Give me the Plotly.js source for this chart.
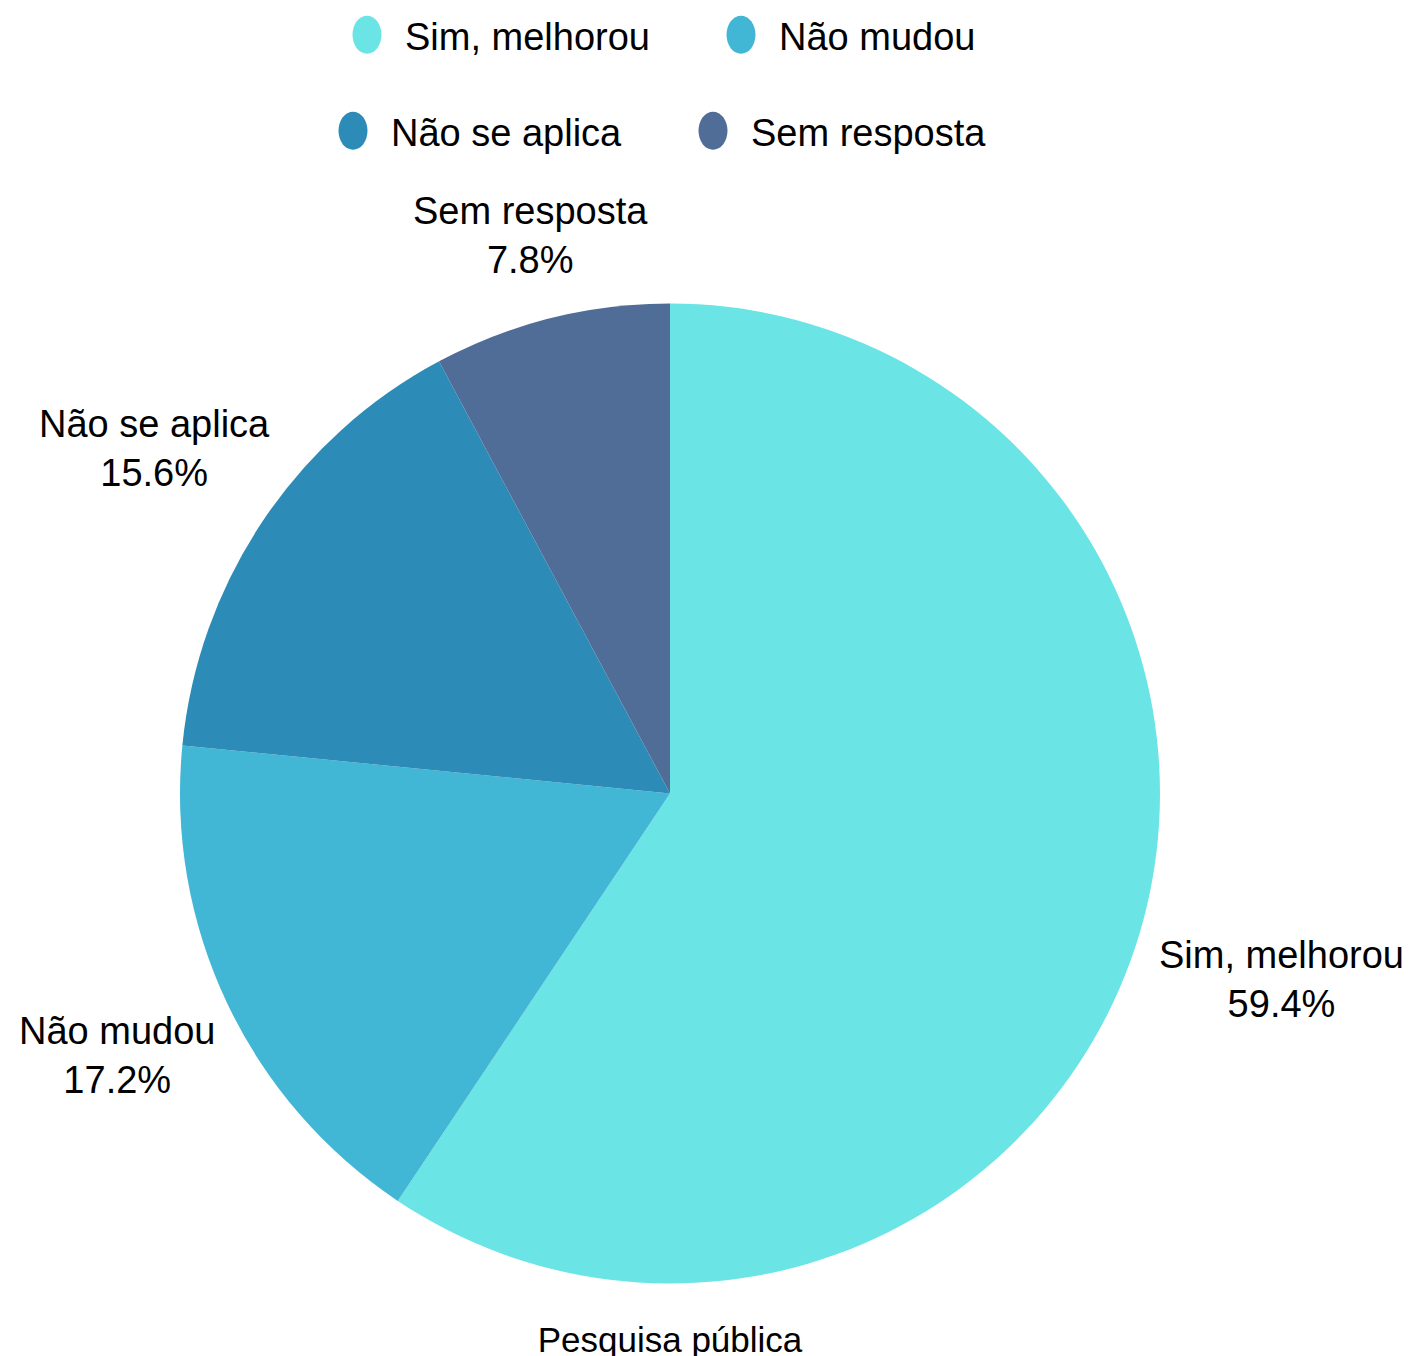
<!DOCTYPE html>
<html>
<head>
<meta charset="utf-8">
<script src="https://cdn.plot.ly/plotly-3.0.1.min.js"></script>
<style>html,body{margin:0;padding:0;background:#fff;}</style>
</head>
<body>
<div id="chart" style="width:1414px;height:1356px;"></div>
<script>
const labels = ["Sim, melhorou", "Não mudou", "Não se aplica", "Sem resposta"];
const values = [38, 11, 10, 5];
const colors = ["#6be4e6", "#42b6d5", "#2d8bb8", "#506d98"];
const chartTitle = "Pesquisa pública";

const W = 1414, H = 1356;
const FONT = "Liberation Sans, Arial, sans-serif";
const FS = 38;
const pieDomain = {x: [180/W, 1160/W], y: [1 - 1285/H, 1 - 302/H]};

const traces = [{
  type: "pie",
  labels: labels,
  values: values,
  sort: false,
  direction: "clockwise",
  rotation: 0,
  marker: {colors: colors, line: {width: 0}},
  textinfo: "none",
  showlegend: false,
  hoverinfo: "none",
  domain: pieDomain
}];

labels.forEach(function(l, i) {
  traces.push({
    type: "scatter",
    mode: "markers",
    x: [null], y: [null],
    name: l,
    marker: {color: colors[i], size: 16},
    legend: i < 2 ? "legend" : "legend2",
    showlegend: true,
    hoverinfo: "none"
  });
});

// outside slice labels, placed radially from the slice mid-angles derived from the values
const ctx = document.createElement("canvas").getContext("2d");
ctx.font = FS + "px 'Liberation Sans'";
const total = values.reduce(function(a, b) { return a + b; }, 0);
const cx = (pieDomain.x[0] + pieDomain.x[1]) / 2 * W;
const cy = (1 - (pieDomain.y[0] + pieDomain.y[1]) / 2) * H;
const r = Math.min((pieDomain.x[1] - pieDomain.x[0]) * W, (pieDomain.y[1] - pieDomain.y[0]) * H) / 2;
const annotations = [];
let cum = 0;
values.forEach(function(v, i) {
  const mid = (cum + v / 2) / total * 2 * Math.PI;
  cum += v;
  const ux = Math.sin(mid), uy = -Math.cos(mid);
  const pct = (v / total * 100).toFixed(1) + "%";
  const a = Math.max(ctx.measureText(labels[i]).width, ctx.measureText(pct).width) / 2;
  const b = FS * 1.26;
  const dist = r + 31 + Math.sqrt(Math.pow(a * ux, 2) + Math.pow(b * uy, 2));
  annotations.push({
    xref: "paper", yref: "paper",
    x: (cx + dist * ux) / W, y: 1 - (cy + dist * uy) / H,
    xanchor: "center", yanchor: "middle",
    text: labels[i] + "<br>" + pct,
    showarrow: false,
    font: {family: FONT, size: FS, color: "#000"}
  });
});

const layout = {
  width: W, height: H,
  margin: {l: 0, r: 0, t: 0, b: 0},
  paper_bgcolor: "#fff", plot_bgcolor: "#fff",
  font: {family: FONT, color: "#000"},
  xaxis: {visible: false}, yaxis: {visible: false},
  annotations: annotations,
  title: {text: chartTitle, font: {family: FONT, size: 35, color: "#000"},
          x: 670/W, xanchor: "center", y: 1 - 1340/H, yanchor: "middle", yref: "container"},
  legend: {orientation: "h", x: (367-38)/W, xanchor: "left", y: 1 - 35/H, yanchor: "middle",
           font: {family: FONT, size: FS, color: "#000"}, itemwidth: 66, entrywidth: 293, bgcolor: "rgba(0,0,0,0)"},
  legend2: {orientation: "h", x: (353-38)/W, xanchor: "left", y: 1 - 131/H, yanchor: "middle",
           font: {family: FONT, size: FS, color: "#000"}, itemwidth: 66, entrywidth: 279, bgcolor: "rgba(0,0,0,0)"}
};

Plotly.newPlot("chart", traces, layout, {staticPlot: true}).then(function(gd) {
  gd.querySelectorAll(".legendpoints path.scatterpts").forEach(function(p) {
    p.setAttribute("d", "M14.5,0A14.5,19 0 1,1 0,-19A14.5,19 0 0,1 14.5,0Z");
  });
});
</script>
</body>
</html>
